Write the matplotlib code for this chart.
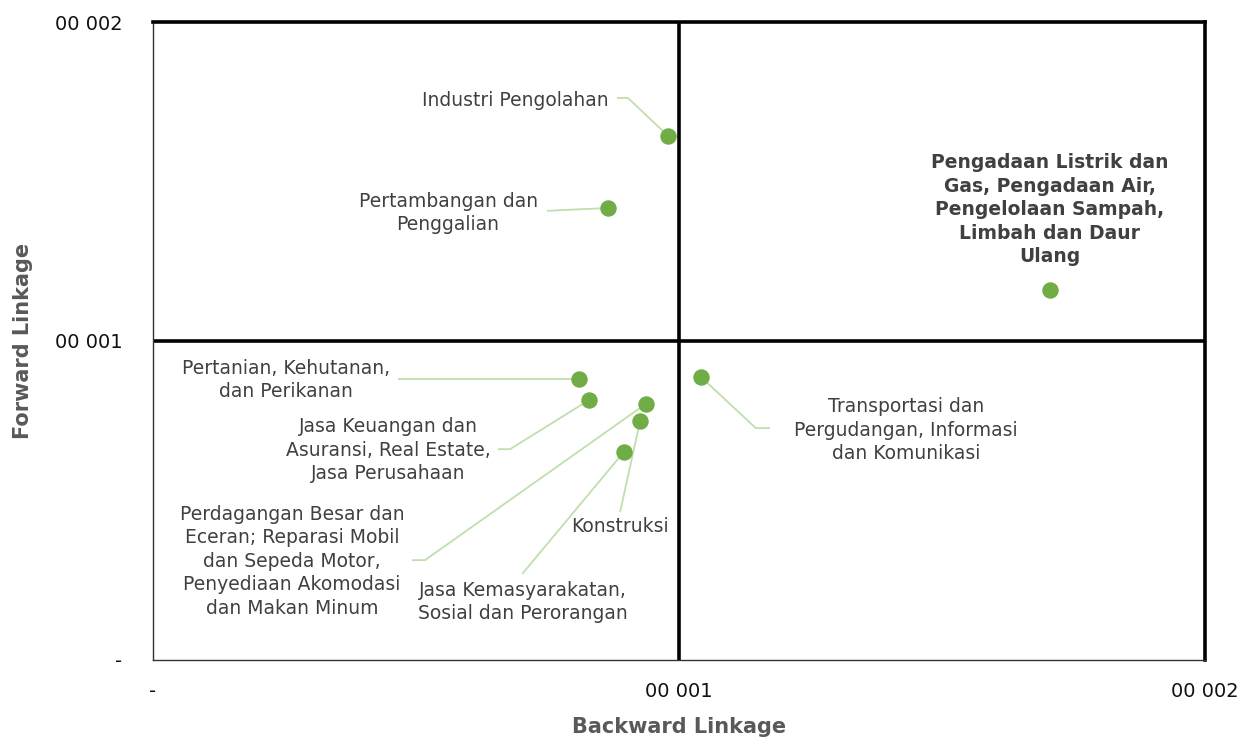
import matplotlib
matplotlib.use("Agg")
import matplotlib.pyplot as plt

# ---- data ----
sectors = [
    "Industri Pengolahan",
    "Pertambangan dan\nPenggalian",
    "Pengadaan Listrik dan\nGas, Pengadaan Air,\nPengelolaan Sampah,\nLimbah dan Daur\nUlang",
    "Pertanian, Kehutanan,\ndan Perikanan",
    "Jasa Keuangan dan\nAsuransi, Real Estate,\nJasa Perusahaan",
    "Perdagangan Besar dan\nEceran; Reparasi Mobil\ndan Sepeda Motor,\nPenyediaan Akomodasi\ndan Makan Minum",
    "Konstruksi",
    "Jasa Kemasyarakatan,\nSosial dan Perorangan",
    "Transportasi dan\nPergudangan, Informasi\ndan Komunikasi",
]
backward = [0.979, 0.865, 1.705, 0.810, 0.829, 0.937, 0.926, 0.895, 1.042]
forward = [1.643, 1.417, 1.160, 0.881, 0.815, 0.803, 0.749, 0.652, 0.887]
tick_vals = [0, 1, 2]
tick_labels = ["-", "00 001", "00 002"]

# ---- label placement (text anchor, alignment, leader path) ----
label_pos = [
    (0.867, 1.755, "right"),
    (0.561, 1.401, "center"),
    (1.705, 1.411, "center"),
    (0.253, 0.878, "center"),
    (0.447, 0.658, "center"),
    (0.264, 0.310, "center"),
    (0.888, 0.417, "center"),
    (0.703, 0.182, "center"),
    (1.432, 0.721, "center"),
]
leaders = [
    [(0.882, 1.762), (0.903, 1.762)],
    [(0.749, 1.408)],
    None,
    [(0.466, 0.881)],
    [(0.656, 0.661), (0.679, 0.661)],
    [(0.492, 0.313), (0.517, 0.313)],
    [(0.888, 0.464)],
    [(0.702, 0.270)],
    [(1.173, 0.727), (1.146, 0.727)],
]
bold = [False, False, True, False, False, False, False, False, False]

fig = plt.figure(figsize=(12.44, 7.40), dpi=100)
ax = fig.add_axes([153 / 1244, 1 - 660 / 740, (1205 - 153) / 1244, (660 - 22) / 740])
ax.set_xlim(0, 2)
ax.set_ylim(0, 2)

leader_color = "#c0dfae"
text_color = "#404040"

for i, (x, y) in enumerate(zip(backward, forward)):
    if leaders[i]:
        xs = [p[0] for p in leaders[i]] + [x]
        ys = [p[1] for p in leaders[i]] + [y]
        ax.plot(xs, ys, color=leader_color, lw=1.3, zorder=2, solid_capstyle="butt")
    lx, ly, ha = label_pos[i]
    ax.text(lx, ly, sectors[i], ha=ha, va="center", fontsize=13.5,
            color=text_color, fontweight="bold" if bold[i] else "normal",
            linespacing=1.3, zorder=4)

ax.scatter(backward, forward, s=140, color="#70ad47", zorder=3, linewidths=0)

ax.axvline(1, color="black", lw=2.6, zorder=1)
ax.axhline(1, color="black", lw=2.6, zorder=1)

for side in ["top", "right"]:
    ax.spines[side].set_linewidth(2.6)
    ax.spines[side].set_color("black")
for side in ["left", "bottom"]:
    ax.spines[side].set_linewidth(1.0)
    ax.spines[side].set_color("#333333")

ax.set_xticks(tick_vals)
ax.set_xticklabels(tick_labels)
ax.set_yticks(tick_vals)
ax.set_yticklabels(tick_labels)
ax.tick_params(axis="x", length=0, pad=16, labelsize=14, labelcolor="#111111")
ax.tick_params(axis="y", length=0, pad=22, labelsize=14, labelcolor="#111111")

ax.set_xlabel("Backward Linkage", fontsize=15, fontweight="bold", color="#595959")
ax.set_ylabel("Forward Linkage", fontsize=15, fontweight="bold", color="#595959")
ax.xaxis.set_label_coords(0.5, (660 - 717) / 638)
ax.yaxis.set_label_coords((33 - 153) / 1052, 0.5)

fig.savefig("out.png", dpi=100)
